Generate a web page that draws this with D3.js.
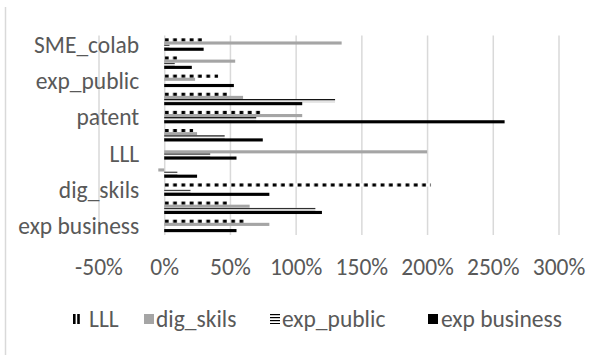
<!DOCTYPE html>
<html><head><meta charset="utf-8">
<script src="https://cdn.jsdelivr.net/npm/d3@7/dist/d3.min.js"></script>
<style>
body{margin:0;background:#fff;}
svg{display:block;}
</style>
</head><body>
<svg id="chart" width="611" height="355"></svg>
<script>
// ---- data ----
const categories = ["SME_colab","cat_2","exp_public","cat_4","patent","cat_6","LLL","cat_8","dig_skils","cat_10","exp business"];
const shownLabels = ["SME_colab","exp_public","patent","LLL","dig_skils","exp business"];
const seriesNames = ["LLL","dig_skils","exp_public","exp business"];
const lllValues         = [0.29, 0.10, 0.41, 0.49, 0.74, 0.22, 0.00, 0.00, 2.03, 0.49, 0.61];
const digSkilsValues    = [1.35, 0.54, 0.235,0.60, 1.05, 0.25, 2.00,-0.045,0.00, 0.65, 0.80];
const expPublicValues   = [0.04, 0.08, 0.00, 1.30, 0.70, 0.46, 0.35, 0.10, 0.20, 1.15, 0.00];
const expBusinessValues = [0.30, 0.21, 0.53, 1.05, 2.59, 0.75, 0.55, 0.25, 0.80, 1.20, 0.55];
const xTickValues = [-0.5, 0, 0.5, 1, 1.5, 2, 2.5, 3];
const xTickLabels = ["-50%","0%","50%","100%","150%","200%","250%","300%"];

const seriesValues = [lllValues, digSkilsValues, expPublicValues, expBusinessValues];
const seriesFill = ["url(#lllPat)", "#a5a5a5", "url(#hPat)", "#000000"];
const textColor = "#595959";
const gridColor = "#d9d9d9";
const fontFamily = "Carlito, Calibri, Lato, sans-serif";
const fontSize = 23.5;

const svg = d3.select("#chart");

// patterns
const defs = svg.append("defs");
const x = d3.scaleLinear().domain([-0.5, 3]).range([98.5, 558.5]);
const lll = defs.append("pattern").attr("id","lllPat").attr("patternUnits","userSpaceOnUse")
  .attr("x", x(0)).attr("y", 0).attr("width", 8.3).attr("height", 40);
lll.append("rect").attr("width",8.3).attr("height",40).attr("fill","#fff");
lll.append("rect").attr("x",0.6).attr("width",3.8).attr("height",40).attr("fill","#000");

const hp = defs.append("pattern").attr("id","hPat").attr("patternUnits","objectBoundingBox")
  .attr("patternContentUnits","userSpaceOnUse").attr("x",0).attr("y",0).attr("width",1).attr("height",1);
hp.append("rect").attr("width",2000).attr("height",40).attr("fill","#fff");
[0,3,6,9,12].forEach(o => hp.append("rect").attr("y",o).attr("width",2000).attr("height",1.2).attr("fill","#000"));

const lllIcon = defs.append("pattern").attr("id","lllIcon").attr("patternUnits","objectBoundingBox")
  .attr("patternContentUnits","userSpaceOnUse").attr("x",0).attr("y",0).attr("width",1).attr("height",1);
lllIcon.append("rect").attr("width",40).attr("height",40).attr("fill","#fff");
lllIcon.append("rect").attr("x",0).attr("width",2.6).attr("height",40).attr("fill","#000");
lllIcon.append("rect").attr("x",4.2).attr("width",2.6).attr("height",40).attr("fill","#000");

// chart border (left edge visible)
svg.append("line").attr("x1",5.5).attr("x2",5.5).attr("y1",7).attr("y2",355)
  .attr("stroke",gridColor).attr("stroke-width",1.5);

const plotTop = 35.5, plotBottom = 235;
const y = d3.scaleBand().domain(categories).range([plotTop, plotBottom])
  .paddingInner(1.82/5.82).paddingOuter(1.82/5.82/2);
const y1 = d3.scaleBand().domain(seriesNames).range([0, y.bandwidth()]);

// x gridlines + labels
const xAxis = d3.axisBottom(x).tickValues(xTickValues)
  .tickFormat((d, i) => xTickLabels[i])
  .tickSizeInner(-(plotBottom - plotTop)).tickSizeOuter(0);
const gx = svg.append("g").attr("transform", `translate(0,${plotBottom})`).call(xAxis)
  .attr("font-family", fontFamily).attr("font-size", fontSize);
gx.select(".domain").remove();
gx.selectAll(".tick line").attr("stroke", gridColor).attr("stroke-width", 1.5);
gx.selectAll(".tick text").attr("y", 31.5).attr("dy","0.35em").attr("fill", textColor);

// bars
const rows = categories.map((c, i) => ({cat: c, vals: seriesNames.map((s, j) => ({s, j, v: seriesValues[j][i]}))}));
const g = svg.append("g");
const grp = g.selectAll("g.cat").data(rows).join("g").attr("class","cat")
  .attr("transform", d => `translate(0,${y(d.cat)})`);
grp.selectAll("rect").data(d => d.vals.filter(e => e.v !== 0)).join("rect")
  .attr("x", d => x(Math.min(0, d.v)))
  .attr("width", d => Math.abs(x(d.v) - x(0)))
  .attr("y", d => y1(d.s))
  .attr("height", y1.bandwidth())
  .attr("fill", d => seriesFill[d.j]);

// y axis labels
const yAxis = d3.axisLeft(y).tickValues(shownLabels).tickSize(0).tickPadding(25);
const gy = svg.append("g").attr("transform", `translate(${x(0)},0)`).call(yAxis)
  .attr("font-family", fontFamily).attr("font-size", fontSize);
gy.select(".domain").remove();
gy.selectAll(".tick text").attr("fill", textColor).attr("dy","0.35em");

// legend
const legendY = 319;
const legendItems = [
  {name: seriesNames[0], fill: "url(#lllIcon)", ix: 73, iw: 7, tx: 89},
  {name: seriesNames[1], fill: seriesFill[1], ix: 144, iw: 10, tx: 156},
  {name: seriesNames[2], fill: "url(#hPat)", ix: 270, iw: 10, tx: 282},
  {name: seriesNames[3], fill: seriesFill[3], ix: 428, iw: 10, tx: 441}
];
const lg = svg.append("g").attr("font-family", fontFamily).attr("font-size", fontSize)
  .selectAll("g").data(legendItems).join("g");
lg.append("rect").attr("x", d => d.ix).attr("y", legendY - 5).attr("width", d => d.iw).attr("height", 10)
  .attr("fill", d => d.fill);
lg.append("text").attr("x", d => d.tx).attr("y", legendY).attr("dy","0.35em")
  .attr("fill", textColor).text(d => d.name);
</script>
</body></html>
